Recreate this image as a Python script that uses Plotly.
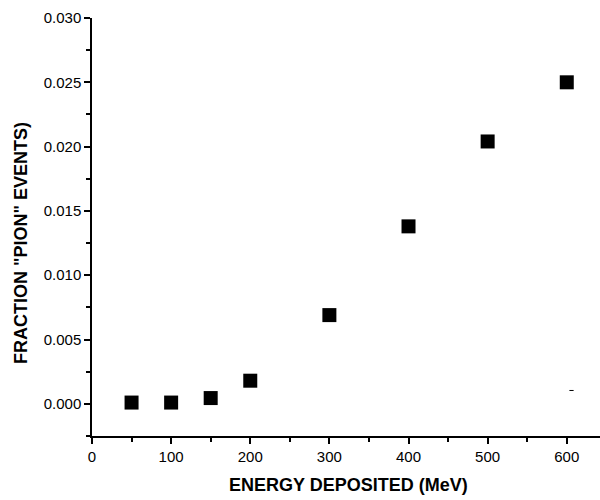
import plotly.graph_objects as go

energy = [50, 100, 150, 200, 300, 400, 500, 600]
fraction = [0.0001, 0.0001, 0.00045, 0.0018, 0.0069, 0.0138, 0.0204, 0.0250]

dash_x = [606]
dash_y = [0.00104]

x_ticks = [0, 100, 200, 300, 400, 500, 600]
y_ticks = [0.000, 0.005, 0.010, 0.015, 0.020, 0.025, 0.030]
y_ticklabels = ["0.000", "0.005", "0.010", "0.015", "0.020", "0.025", "0.030"]

x_title = "<b>ENERGY DEPOSITED (MeV)</b>"
y_title = "<b>FRACTION \"PION\" EVENTS)</b>"

fig = go.Figure()
fig.add_trace(go.Scatter(x=energy, y=fraction, mode="markers",
                         marker=dict(symbol="square", size=14, color="black",
                                     line=dict(width=0)),
                         showlegend=False))
fig.add_trace(go.Scatter(x=dash_x, y=dash_y, mode="markers",
                         marker=dict(symbol="line-ew", size=3, color="black",
                                     line=dict(width=1, color="black")),
                         showlegend=False))

FONT = "Liberation Sans, Arial, sans-serif"
axis_font = dict(family=FONT, size=15, color="black")
title_font = dict(family=FONT, size=18, color="black")

fig.update_layout(
    width=600, height=500,
    margin=dict(l=92, r=0, t=18, b=64),
    plot_bgcolor="white", paper_bgcolor="white",
    xaxis=dict(range=[0, 642], tickvals=x_ticks,
               ticks="outside", ticklen=6, tickwidth=1.5, tickcolor="black",
               showline=True, linecolor="black", linewidth=1.5,
               showgrid=False, zeroline=False, tickfont=axis_font,
               minor=dict(ticks="outside", ticklen=4, tickwidth=1.5, tickcolor="black",
                          dtick=50, tick0=0, showgrid=False)),
    yaxis=dict(range=[-0.0025, 0.030],
               tickvals=y_ticks, ticktext=y_ticklabels,
               ticks="outside", ticklen=6, tickwidth=1.5, tickcolor="black",
               showline=True, linecolor="black", linewidth=1.5,
               showgrid=False, zeroline=False, tickfont=axis_font,
               minor=dict(ticks="outside", ticklen=4, tickwidth=1.5, tickcolor="black",
                          dtick=0.0025, tick0=0, showgrid=False)),
    annotations=[
        dict(text=x_title, xref="paper", yref="paper", x=(348 - 92) / 508, y=0,
             yshift=-(485 - 436), xanchor="center", yanchor="middle",
             showarrow=False, font=title_font),
        dict(text=y_title, xref="paper", yref="paper", x=0, xshift=-(92 - 21),
             y=(436 - 243) / 418, xanchor="center", yanchor="middle",
             textangle=-90, showarrow=False, font=title_font),
    ],
)

fig.write_html("out.html")
